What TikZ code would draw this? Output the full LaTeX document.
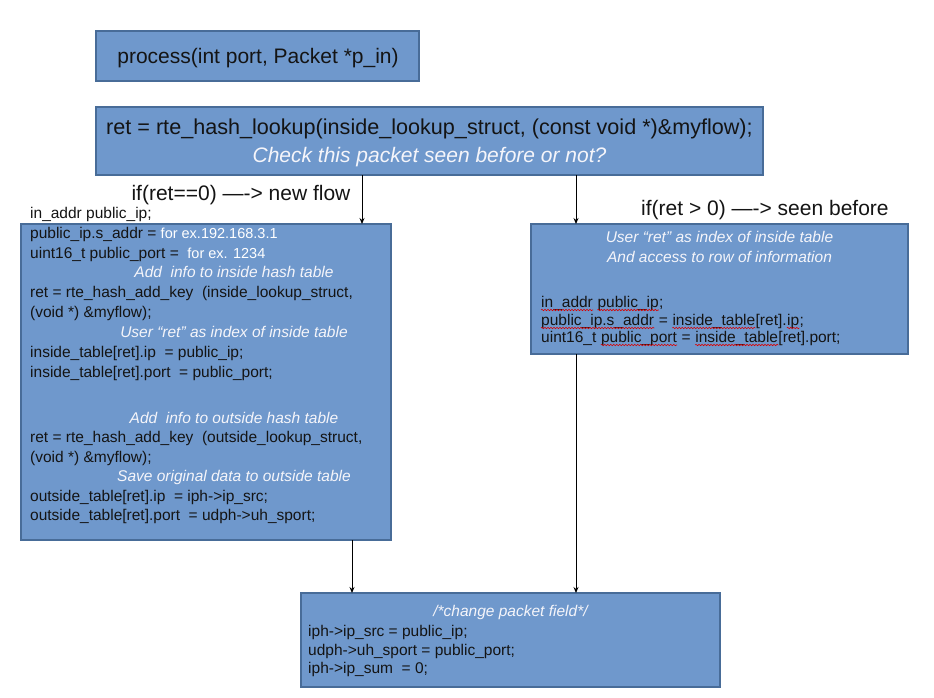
\documentclass[tikz,border=0pt]{standalone}
\usepackage{fontspec}
\setmainfont{Liberation Sans}
\usetikzlibrary{arrows.meta,decorations.pathmorphing}
\definecolor{boxc}{RGB}{111,152,204}
\definecolor{bordc}{RGB}{72,108,152}
\definecolor{txtc}{RGB}{20,20,20}
\definecolor{ittc}{RGB}{245,245,250}
\newcommand\wtxt[1]{\textcolor{white}{\fontsize{14.5}{19}\selectfont #1}}
\begin{document}
\begin{tikzpicture}[x=1pt,y=-1pt,
  box/.style={draw=bordc, fill=boxc, line width=1.3pt, inner sep=0pt, outer sep=0pt},
  big/.style={font=\fontsize{21}{25}\selectfont, text=txtc, inner sep=0pt},
  code/.style={font=\fontsize{15.5}{19}\selectfont, text=txtc, inner sep=0pt, anchor=base west},
  itl/.style={font=\fontsize{15.5}{19}\selectfont\itshape, text=ittc, inner sep=0pt, anchor=base},
  bigit/.style={font=\fontsize{21}{25}\selectfont\itshape, text=ittc, inner sep=0pt, anchor=base},
  squig/.style={draw=red!85!black, line width=0.6pt, decorate, decoration={snake, segment length=3pt, amplitude=0.7pt}},
  arr/.style={draw=black, line width=0.9pt, -{Stealth[length=6pt,width=5pt]}}]
\useasboundingbox (0,0) rectangle (934,697);
\fill[white] (0,0) rectangle (934,697);

% boxes
\node[box, minimum width=323pt, minimum height=50pt] (b1) at (257.5,56) {};
\node[box, minimum width=667pt, minimum height=68pt] (b2) at (429.5,141) {};
\node[box, minimum width=370pt, minimum height=316pt] (L) at (206,382) {};
\node[box, minimum width=377pt, minimum height=130pt] (R) at (719.5,289) {};
\node[box, minimum width=419pt, minimum height=94pt] (B) at (510.5,640) {};

% box 1 and 2 text
\node[big, anchor=base] (t1) at (258,63) {process(int port, Packet *p\_in)};
\node[big, anchor=base, font=\fontsize{21.6}{25}\selectfont] (t2a) at (429.5,134) {ret = rte\_hash\_lookup(inside\_lookup\_struct, (const void *)\&myflow);};
\node[bigit] (t2b) at (429.5,162) {Check this packet seen before or not?};

% labels
\node[big, anchor=base] (lab1) at (241,200) {if(ret==0) —-> new flow};
\node[big, anchor=base west] (lab2) at (641,215) {if(ret > 0) —-> seen before};
\node[code] (l0) at (30,218) {in\_addr public\_ip;};

% left box
\node[code] (l1) at (30,238) {public\_ip.s\_addr = \wtxt{for ex.192.168.3.1}};
\node[code] (l2) at (30,258) {uint16\_t public\_port = \ \wtxt{for ex. 1234}};
\node[itl] (l3) at (234,277.5) {Add\ \ info to inside hash table};
\node[code] (l4) at (30,297) {ret = rte\_hash\_add\_key\ \ (inside\_lookup\_struct,};
\node[code] (l5) at (30,317) {(void *) \&myflow);};
\node[itl] (l6) at (234,337) {User “ret” as index of inside table};
\node[code] (l7) at (30,357) {inside\_table[ret].ip\ \ = public\_ip;};
\node[code] (l8) at (30,377) {inside\_table[ret].port\ \ = public\_port;};
\node[itl] (l9) at (234,423) {Add\ \ info to outside hash table};
\node[code] (l10) at (30,442.5) {ret = rte\_hash\_add\_key\ \ (outside\_lookup\_struct,};
\node[code] (l11) at (30,462) {(void *) \&myflow);};
\node[itl] (l12) at (234,481.5) {Save original data to outside table};
\node[code] (l13) at (30,501) {outside\_table[ret].ip\ \ = iph->ip\_src;};
\node[code] (l14) at (30,520) {outside\_table[ret].port\ \ = udph->uh\_sport;};

% right box
\node[itl] (r1) at (719.5,242) {User “ret” as index of inside table};
\node[itl] (r2) at (719.5,262) {And access to row of information};
\node[code] (r3a) at (541,307) {in\_addr};
\node[code] (r3b) at ([xshift=4.3pt]r3a.base east) {public\_ip};
\node[code] (r3c) at (r3b.base east) {;};
\node[code] (r4a) at (541,325) {public\_ip.s\_addr};
\node[code] (r4b) at (r4a.base east) {\ =\ \mbox{}};
\node[code] (r4c) at (r4b.base east) {inside\_table};
\node[code] (r4d) at (r4c.base east) {[ret].};
\node[code] (r4e) at (r4d.base east) {ip};
\node[code] (r4f) at (r4e.base east) {;};
\node[code] (r5a) at (541,342) {uint16\_t\ \mbox{}};
\node[code] (r5b) at (r5a.base east) {public\_port};
\node[code] (r5c) at (r5b.base east) {\ =\ \mbox{}};
\node[code] (r5d) at (r5c.base east) {inside\_table};
\node[code] (r5e) at (r5d.base east) {[ret].port;};
\foreach \w in {r3a,r3b,r4a,r4c,r4e,r5b,r5d}
  \draw[squig] ([yshift=-3pt]\w.base west) -- ([yshift=-3pt]\w.base east);

% bottom box
\node[itl] (c1) at (510.5,616) {/*change packet field*/};
\node[code] (c2) at (308,636) {iph->ip\_src = public\_ip;};
\node[code] (c3) at (308,655) {udph->uh\_sport = public\_port;};
\node[code] (c4) at (308,673) {iph->ip\_sum\ \ = 0;};

% connectors
\coordinate (xa) at (362,0);
\coordinate (xb) at (576,0);
\coordinate (xc) at (352,0);
\draw[arr] (b2.south -| xa) -- (L.north -| xa);
\draw[arr] (b2.south -| xb) -- (R.north -| xb);
\draw[arr] (L.south -| xc) -- (B.north -| xc);
\draw[arr] (R.south -| xb) -- (B.north -| xb);
\end{tikzpicture}
\end{document}
